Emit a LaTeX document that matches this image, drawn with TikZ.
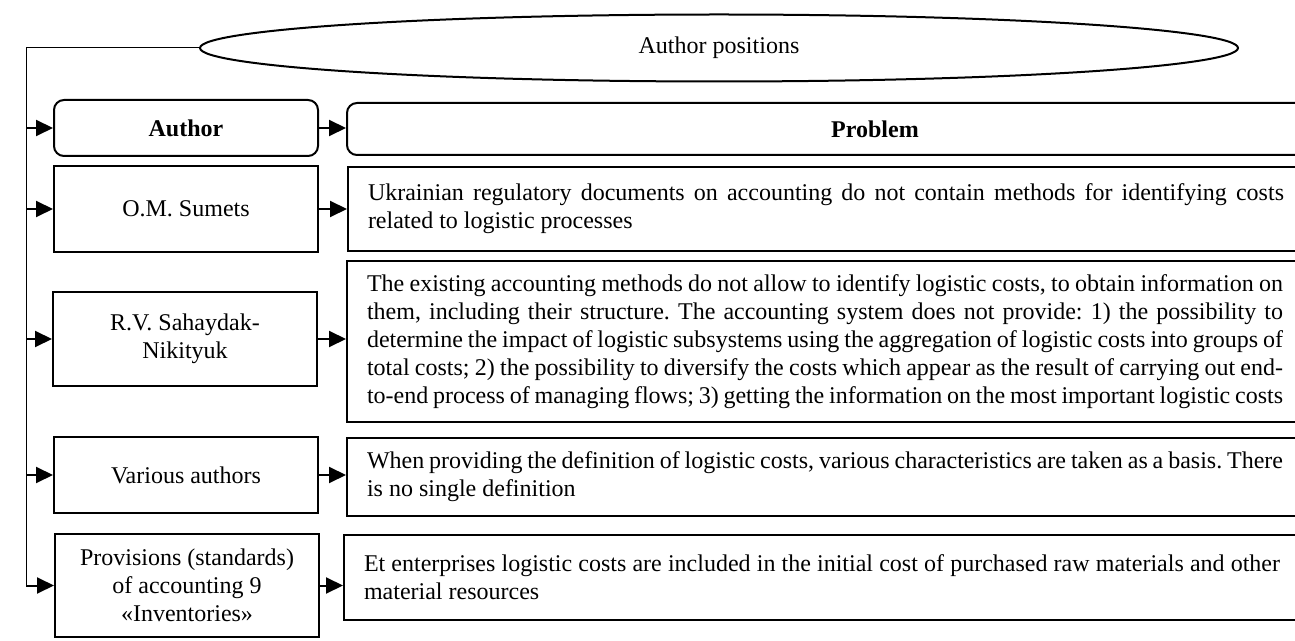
\documentclass[tikz,border=0pt]{standalone}
\usepackage{fontspec}
\setmainfont{Liberation Serif}
\usetikzlibrary{arrows.meta,positioning,shapes.geometric}
\hyphenpenalty=10000
\tolerance=9999
\frenchspacing
\tikzset{%
	authorbox/.style  = {draw, rectangle, line width=1pt, minimum width=132pt, align=center, inner sep=2pt}, % Author
	headbox/.style    = {authorbox, rounded corners=5pt}, % Header
	problembox/.style = {draw, rectangle, line width=1pt, text width=458pt, inner xsep=10pt, inner ysep=2pt, align=justify, anchor=north west}, % Problem
	oval/.style       = {draw, ellipse, line width=1pt, minimum width=519pt, minimum height=33.5pt, inner sep=0pt},
	arrow/.style      = {line width=1pt, -{Triangle[length=8.5pt,width=8pt]}},
	bus/.style        = {line width=0.5pt},
}

\begin{document}
\begin{tikzpicture}[x=0.5pt, y=-0.5pt, font=\fontsize{12}{14}\selectfont]
	\useasboundingbox (0,0) rectangle (1295,641);
	\node[oval] (pos) at (719,48) {Author positions};
	\coordinate (bus) at (26,0);
	
	\node[headbox, minimum height=28pt] (au) at (186,128) {\textbf{Author}};
	\node[headbox, minimum width=528pt, minimum height=26pt] (pr) at (875,129) {\textbf{Problem}};
	
	\node[authorbox, minimum height=43pt] (sm) at (186,209) {O.M. Sumets};
	\node[problembox, minimum height=42pt] (smp) at (347,166) {Ukrainian regulatory documents on accounting do not contain methods for identifying costs related to logistic processes};
	
	\node[authorbox, minimum height=47pt] (rv) at (185,339) {R.V. Sahaydak-\\Nikityuk};
	\node[problembox, minimum height=80.5pt] (rvp) at (346,260) {The existing accounting methods do not allow to identify logistic costs, to obtain information on\linebreak them, including their structure. The accounting system does not provide: 1) the possibility to\linebreak determine the impact of logistic subsystems using the aggregation of logistic costs into groups of\linebreak total costs; 2) the possibility to diversify the costs which appear as the result of carrying out end-\linebreak to-end process of managing flows; 3) getting the information on the most important logistic costs};
	
	\node[authorbox, minimum height=38pt] (va) at (186,475) {Various authors};
	\node[problembox, minimum height=39pt] (vap) at (346,437) {When providing the definition of logistic costs, various characteristics are taken as a basis. There is no single definition};
	
	\node[authorbox, minimum height=51.5pt] (pv) at (187,585.5) {Provisions (standards)\\of accounting 9\\«Inventories»};
	\node[problembox, minimum height=42.5pt] (pvp) at (343,534) {Et enterprises logistic costs are included in the initial cost of purchased raw materials and other material resources};
	
	\draw[bus] (pos.west) -| (bus |- pv.west);
	\foreach \n in {au,sm,rv,va,pv}
		\draw[arrow] (bus |- \n.west) -- (\n.west);
	\draw[arrow] (au.east) -- (au.east -| pr.west);
	\draw[arrow] (sm.east) -- (sm.east -| smp.west);
	\draw[arrow] (rv.east) -- (rv.east -| rvp.west);
	\draw[arrow] (va.east) -- (va.east -| vap.west);
	\draw[arrow] (pv.east) -- (pv.east -| pvp.west);
\end{tikzpicture}
\end{document}
